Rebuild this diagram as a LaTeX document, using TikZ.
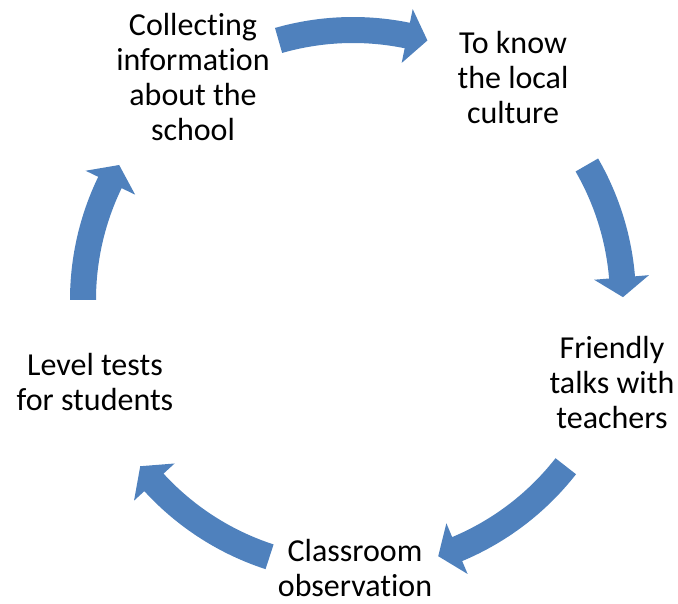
\documentclass[tikz,border=0pt]{standalone}
\usepackage{fontspec}
\setmainfont{Carlito}[Ligatures={NoCommon}]
\usetikzlibrary{calc}
\definecolor{cycblue}{HTML}{4F81BD}
\tikzset{
  cycfill/.style={fill=cycblue},
  steplabel/.style={align=center, inner sep=0pt, anchor=base, font=\fontsize{32}{35.3}\selectfont, text=black}
}
\newcommand\cycarrow[3]{%
  \fill[cycfill] ($(c)+(#1:283pt)$) arc[start angle=#1, end angle=#2, radius=283pt]
    -- ($(c)+(#2:297pt)$) -- ($(c)+(#3:270pt)$) -- ($(c)+(#2:242pt)$)
    -- ($(c)+(#2:257pt)$) arc[start angle=#2, end angle=#1, radius=257pt] -- cycle;}
\begin{document}
\begin{tikzpicture}[x=1pt,y=1pt]
\useasboundingbox (0,0) rectangle (678,603);
\coordinate (c) at (353,303);
\cycarrow{106}{78.4}{74}
\cycarrow{30}{4.8}{0.6}
\cycarrow{-38}{-67.3}{-71.6}
\cycarrow{-108}{-137.5}{-142}
\cycarrow{180}{154.2}{150}
\node[steplabel] (n1) at (193,462) {Collecting\\information\\about the\\school};
\node[steplabel] (n2) at (513,479) {To know\\the local\\culture};
\node[steplabel] (n3) at (612,174) {Friendly\\talks with\\teachers};
\node[steplabel] (n4) at (95,192) {Level tests\\for students};
\node[steplabel] (n5) at (355,6) {Classroom\\observation};
\end{tikzpicture}
\end{document}
